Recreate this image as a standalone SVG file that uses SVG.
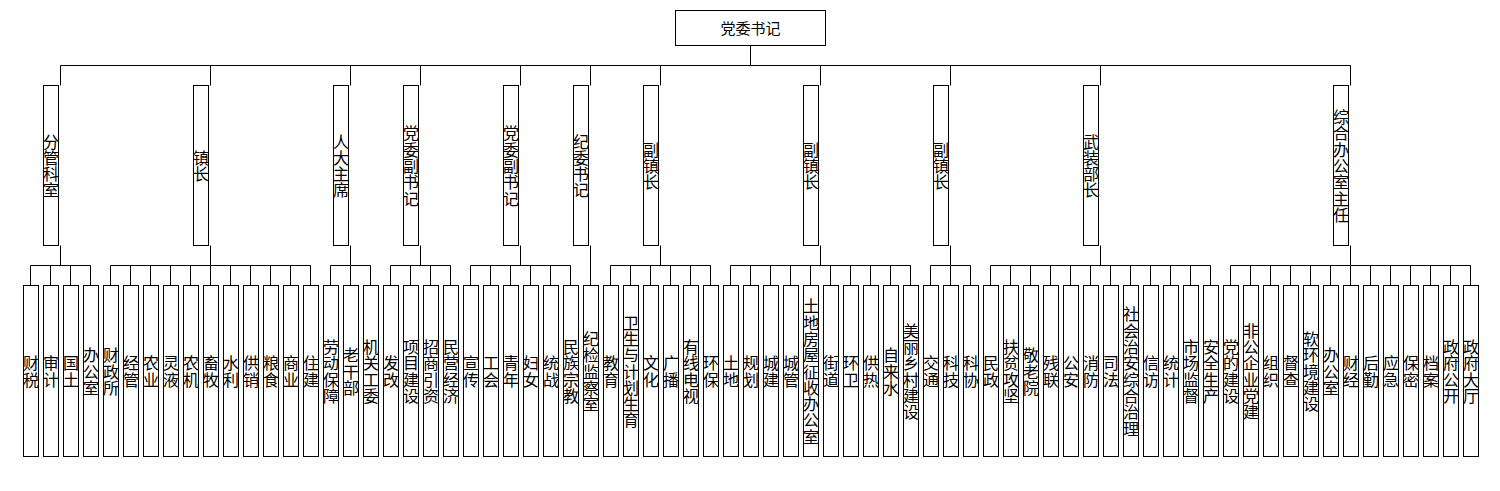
<svg xmlns="http://www.w3.org/2000/svg" width="1500" height="491" viewBox="0 0 1500 491">
<style>
.b{fill:#fff;stroke:#000;stroke-width:1}
.c{fill:none;stroke:#000;stroke-width:1}
.t{font-family:"Noto Sans CJK SC","Noto Sans CJK JP",sans-serif;font-size:16px;text-anchor:middle;dominant-baseline:central;fill:#000}
.h{font-size:15px}
</style>
<rect x="0" y="0" width="1500" height="491" fill="#fff"/>
<g id="connectors">
<path class="c" d="M750.5 45.5V65.5M60.5 65.5H1350.5
M60.5 65.5v20M210.5 65.5v20M350.5 65.5v20M420.5 65.5v20M520.5 65.5v20M590.5 65.5v20M660.5 65.5v20M820.5 65.5v20M950.5 65.5v20M1100.5 65.5v20M1350.5 65.5v20
M60.5 245.5v20M210.5 245.5v20M350.5 245.5v20M420.5 245.5v20M520.5 245.5v20M590.5 245.5v40M660.5 245.5v20M820.5 245.5v20M950.5 245.5v20M1100.5 245.5v20M1350.5 245.5v20
M30.5 265.5H90.5M110.5 265.5H310.5M330.5 265.5H370.5M390.5 265.5H450.5M470.5 265.5H570.5M610.5 265.5H710.5M730.5 265.5H910.5M930.5 265.5H970.5M990.5 265.5H1210.5M1230.5 265.5H1470.5
M30.5 265.5v20M50.5 265.5v20M70.5 265.5v20M90.5 265.5v20M110.5 265.5v20M130.5 265.5v20M150.5 265.5v20M170.5 265.5v20M190.5 265.5v20M210.5 265.5v20M230.5 265.5v20M250.5 265.5v20M270.5 265.5v20M290.5 265.5v20M310.5 265.5v20M330.5 265.5v20M350.5 265.5v20M370.5 265.5v20M390.5 265.5v20M410.5 265.5v20M430.5 265.5v20M450.5 265.5v20M470.5 265.5v20M490.5 265.5v20M510.5 265.5v20M530.5 265.5v20M550.5 265.5v20M570.5 265.5v20M610.5 265.5v20M630.5 265.5v20M650.5 265.5v20M670.5 265.5v20M690.5 265.5v20M710.5 265.5v20M730.5 265.5v20M750.5 265.5v20M770.5 265.5v20M790.5 265.5v20M810.5 265.5v20M830.5 265.5v20M850.5 265.5v20M870.5 265.5v20M890.5 265.5v20M910.5 265.5v20M930.5 265.5v20M950.5 265.5v20M970.5 265.5v20M990.5 265.5v20M1010.5 265.5v20M1030.5 265.5v20M1050.5 265.5v20M1070.5 265.5v20M1090.5 265.5v20M1110.5 265.5v20M1130.5 265.5v20M1150.5 265.5v20M1170.5 265.5v20M1190.5 265.5v20M1210.5 265.5v20M1230.5 265.5v20M1250.5 265.5v20M1270.5 265.5v20M1290.5 265.5v20M1310.5 265.5v20M1330.5 265.5v20M1350.5 265.5v20M1370.5 265.5v20M1390.5 265.5v20M1410.5 265.5v20M1430.5 265.5v20M1450.5 265.5v20M1470.5 265.5v20"/>
</g>
<g id="top"><rect class="b" x="675.5" y="10.5" width="150" height="35"/><text class="t h" x="750.5" y="27.5">党委书记</text></g>
<g id="m1"><rect class="b" x="43.5" y="85.5" width="15" height="160"/><text class="t" x="51 51 51 51" y="140.55 156.85 173.15 189.45">分管科室</text></g>
<g id="m2"><rect class="b" x="193.5" y="85.5" width="15" height="160"/><text class="t" x="201 201" y="156.85 173.15">镇长</text></g>
<g id="m3"><rect class="b" x="333.5" y="85.5" width="15" height="160"/><text class="t" x="341 341 341 341" y="140.55 156.85 173.15 189.45">人大主席</text></g>
<g id="m4"><rect class="b" x="403.5" y="85.5" width="15" height="160"/><text class="t" x="411 411 411 411 411" y="132.4 148.7 165 181.3 197.6">党委副书记</text></g>
<g id="m5"><rect class="b" x="503.5" y="85.5" width="15" height="160"/><text class="t" x="511 511 511 511 511" y="132.4 148.7 165 181.3 197.6">党委副书记</text></g>
<g id="m6"><rect class="b" x="573.5" y="85.5" width="15" height="160"/><text class="t" x="581 581 581 581" y="140.55 156.85 173.15 189.45">纪委书记</text></g>
<g id="m7"><rect class="b" x="643.5" y="85.5" width="15" height="160"/><text class="t" x="651 651 651" y="148.7 165 181.3">副镇长</text></g>
<g id="m8"><rect class="b" x="803.5" y="85.5" width="15" height="160"/><text class="t" x="811 811 811" y="148.7 165 181.3">副镇长</text></g>
<g id="m9"><rect class="b" x="933.5" y="85.5" width="15" height="160"/><text class="t" x="941 941 941" y="148.7 165 181.3">副镇长</text></g>
<g id="m10"><rect class="b" x="1083.5" y="85.5" width="15" height="160"/><text class="t" x="1091 1091 1091 1091" y="140.55 156.85 173.15 189.45">武装部长</text></g>
<g id="m11"><rect class="b" x="1333.5" y="85.5" width="15" height="160"/><text class="t" x="1341 1341 1341 1341 1341 1341 1341" y="116.1 132.4 148.7 165 181.3 197.6 213.9">综合办公室主任</text></g>
<g id="l0"><rect class="b" x="23.5" y="285.5" width="15" height="171"/><text class="t" x="31 31" y="362.35 378.65">财税</text></g>
<g id="l1"><rect class="b" x="43.5" y="285.5" width="15" height="171"/><text class="t" x="51 51" y="362.35 378.65">审计</text></g>
<g id="l2"><rect class="b" x="63.5" y="285.5" width="15" height="171"/><text class="t" x="71 71" y="362.35 378.65">国土</text></g>
<g id="l3"><rect class="b" x="83.5" y="285.5" width="15" height="171"/><text class="t" x="91 91 91" y="354.2 370.5 386.8">办公室</text></g>
<g id="l4"><rect class="b" x="103.5" y="285.5" width="15" height="171"/><text class="t" x="111 111 111" y="354.2 370.5 386.8">财政所</text></g>
<g id="l5"><rect class="b" x="123.5" y="285.5" width="15" height="171"/><text class="t" x="131 131" y="362.35 378.65">经管</text></g>
<g id="l6"><rect class="b" x="143.5" y="285.5" width="15" height="171"/><text class="t" x="151 151" y="362.35 378.65">农业</text></g>
<g id="l7"><rect class="b" x="163.5" y="285.5" width="15" height="171"/><text class="t" x="171 171" y="362.35 378.65">灵液</text></g>
<g id="l8"><rect class="b" x="183.5" y="285.5" width="15" height="171"/><text class="t" x="191 191" y="362.35 378.65">农机</text></g>
<g id="l9"><rect class="b" x="203.5" y="285.5" width="15" height="171"/><text class="t" x="211 211" y="362.35 378.65">畜牧</text></g>
<g id="l10"><rect class="b" x="223.5" y="285.5" width="15" height="171"/><text class="t" x="231 231" y="362.35 378.65">水利</text></g>
<g id="l11"><rect class="b" x="243.5" y="285.5" width="15" height="171"/><text class="t" x="251 251" y="362.35 378.65">供销</text></g>
<g id="l12"><rect class="b" x="263.5" y="285.5" width="15" height="171"/><text class="t" x="271 271" y="362.35 378.65">粮食</text></g>
<g id="l13"><rect class="b" x="283.5" y="285.5" width="15" height="171"/><text class="t" x="291 291" y="362.35 378.65">商业</text></g>
<g id="l14"><rect class="b" x="303.5" y="285.5" width="15" height="171"/><text class="t" x="311 311" y="362.35 378.65">住建</text></g>
<g id="l15"><rect class="b" x="323.5" y="285.5" width="15" height="171"/><text class="t" x="331 331 331 331" y="346.05 362.35 378.65 394.95">劳动保障</text></g>
<g id="l16"><rect class="b" x="343.5" y="285.5" width="15" height="171"/><text class="t" x="351 351 351" y="354.2 370.5 386.8">老干部</text></g>
<g id="l17"><rect class="b" x="363.5" y="285.5" width="15" height="171"/><text class="t" x="371 371 371 371" y="346.05 362.35 378.65 394.95">机关工委</text></g>
<g id="l18"><rect class="b" x="383.5" y="285.5" width="15" height="171"/><text class="t" x="391 391" y="362.35 378.65">发改</text></g>
<g id="l19"><rect class="b" x="403.5" y="285.5" width="15" height="171"/><text class="t" x="411 411 411 411" y="346.05 362.35 378.65 394.95">项目建设</text></g>
<g id="l20"><rect class="b" x="423.5" y="285.5" width="15" height="171"/><text class="t" x="431 431 431 431" y="346.05 362.35 378.65 394.95">招商引资</text></g>
<g id="l21"><rect class="b" x="443.5" y="285.5" width="15" height="171"/><text class="t" x="451 451 451 451" y="346.05 362.35 378.65 394.95">民营经济</text></g>
<g id="l22"><rect class="b" x="463.5" y="285.5" width="15" height="171"/><text class="t" x="471 471" y="362.35 378.65">宣传</text></g>
<g id="l23"><rect class="b" x="483.5" y="285.5" width="15" height="171"/><text class="t" x="491 491" y="362.35 378.65">工会</text></g>
<g id="l24"><rect class="b" x="503.5" y="285.5" width="15" height="171"/><text class="t" x="511 511" y="362.35 378.65">青年</text></g>
<g id="l25"><rect class="b" x="523.5" y="285.5" width="15" height="171"/><text class="t" x="531 531" y="362.35 378.65">妇女</text></g>
<g id="l26"><rect class="b" x="543.5" y="285.5" width="15" height="171"/><text class="t" x="551 551" y="362.35 378.65">统战</text></g>
<g id="l27"><rect class="b" x="563.5" y="285.5" width="15" height="171"/><text class="t" x="571 571 571 571" y="346.05 362.35 378.65 394.95">民族宗教</text></g>
<g id="l28"><rect class="b" x="583.5" y="285.5" width="15" height="171"/><text class="t" x="591 591 591 591 591" y="337.9 354.2 370.5 386.8 403.1">纪检监察室</text></g>
<g id="l29"><rect class="b" x="603.5" y="285.5" width="15" height="171"/><text class="t" x="611 611" y="362.35 378.65">教育</text></g>
<g id="l30"><rect class="b" x="623.5" y="285.5" width="15" height="171"/><text class="t" x="631 631 631 631 631 631 631" y="321.6 337.9 354.2 370.5 386.8 403.1 419.4">卫生与计划生育</text></g>
<g id="l31"><rect class="b" x="643.5" y="285.5" width="15" height="171"/><text class="t" x="651 651" y="362.35 378.65">文化</text></g>
<g id="l32"><rect class="b" x="663.5" y="285.5" width="15" height="171"/><text class="t" x="671 671" y="362.35 378.65">广播</text></g>
<g id="l33"><rect class="b" x="683.5" y="285.5" width="15" height="171"/><text class="t" x="691 691 691 691" y="346.05 362.35 378.65 394.95">有线电视</text></g>
<g id="l34"><rect class="b" x="703.5" y="285.5" width="15" height="171"/><text class="t" x="711 711" y="362.35 378.65">环保</text></g>
<g id="l35"><rect class="b" x="723.5" y="285.5" width="15" height="171"/><text class="t" x="731 731" y="362.35 378.65">土地</text></g>
<g id="l36"><rect class="b" x="743.5" y="285.5" width="15" height="171"/><text class="t" x="751 751" y="362.35 378.65">规划</text></g>
<g id="l37"><rect class="b" x="763.5" y="285.5" width="15" height="171"/><text class="t" x="771 771" y="362.35 378.65">城建</text></g>
<g id="l38"><rect class="b" x="783.5" y="285.5" width="15" height="171"/><text class="t" x="791 791" y="362.35 378.65">城管</text></g>
<g id="l39"><rect class="b" x="803.5" y="285.5" width="15" height="171"/><text class="t" x="811 811 811 811 811 811 811 811 811" y="305.3 321.6 337.9 354.2 370.5 386.8 403.1 419.4 435.7">土地房屋征收办公室</text></g>
<g id="l40"><rect class="b" x="823.5" y="285.5" width="15" height="171"/><text class="t" x="831 831" y="362.35 378.65">街道</text></g>
<g id="l41"><rect class="b" x="843.5" y="285.5" width="15" height="171"/><text class="t" x="851 851" y="362.35 378.65">环卫</text></g>
<g id="l42"><rect class="b" x="863.5" y="285.5" width="15" height="171"/><text class="t" x="871 871" y="362.35 378.65">供热</text></g>
<g id="l43"><rect class="b" x="883.5" y="285.5" width="15" height="171"/><text class="t" x="891 891 891" y="354.2 370.5 386.8">自来水</text></g>
<g id="l44"><rect class="b" x="903.5" y="285.5" width="15" height="171"/><text class="t" x="911 911 911 911 911 911" y="329.75 346.05 362.35 378.65 394.95 411.25">美丽乡村建设</text></g>
<g id="l45"><rect class="b" x="923.5" y="285.5" width="15" height="171"/><text class="t" x="931 931" y="362.35 378.65">交通</text></g>
<g id="l46"><rect class="b" x="943.5" y="285.5" width="15" height="171"/><text class="t" x="951 951" y="362.35 378.65">科技</text></g>
<g id="l47"><rect class="b" x="963.5" y="285.5" width="15" height="171"/><text class="t" x="971 971" y="362.35 378.65">科协</text></g>
<g id="l48"><rect class="b" x="983.5" y="285.5" width="15" height="171"/><text class="t" x="991 991" y="362.35 378.65">民政</text></g>
<g id="l49"><rect class="b" x="1003.5" y="285.5" width="15" height="171"/><text class="t" x="1011 1011 1011 1011" y="346.05 362.35 378.65 394.95">扶贫攻坚</text></g>
<g id="l50"><rect class="b" x="1023.5" y="285.5" width="15" height="171"/><text class="t" x="1031 1031 1031" y="354.2 370.5 386.8">敬老院</text></g>
<g id="l51"><rect class="b" x="1043.5" y="285.5" width="15" height="171"/><text class="t" x="1051 1051" y="362.35 378.65">残联</text></g>
<g id="l52"><rect class="b" x="1063.5" y="285.5" width="15" height="171"/><text class="t" x="1071 1071" y="362.35 378.65">公安</text></g>
<g id="l53"><rect class="b" x="1083.5" y="285.5" width="15" height="171"/><text class="t" x="1091 1091" y="362.35 378.65">消防</text></g>
<g id="l54"><rect class="b" x="1103.5" y="285.5" width="15" height="171"/><text class="t" x="1111 1111" y="362.35 378.65">司法</text></g>
<g id="l55"><rect class="b" x="1123.5" y="285.5" width="15" height="171"/><text class="t" x="1131 1131 1131 1131 1131 1131 1131 1131" y="313.45 329.75 346.05 362.35 378.65 394.95 411.25 427.55">社会治安综合治理</text></g>
<g id="l56"><rect class="b" x="1143.5" y="285.5" width="15" height="171"/><text class="t" x="1151 1151" y="362.35 378.65">信访</text></g>
<g id="l57"><rect class="b" x="1163.5" y="285.5" width="15" height="171"/><text class="t" x="1171 1171" y="362.35 378.65">统计</text></g>
<g id="l58"><rect class="b" x="1183.5" y="285.5" width="15" height="171"/><text class="t" x="1191 1191 1191 1191" y="346.05 362.35 378.65 394.95">市场监督</text></g>
<g id="l59"><rect class="b" x="1203.5" y="285.5" width="15" height="171"/><text class="t" x="1211 1211 1211 1211" y="346.05 362.35 378.65 394.95">安全生产</text></g>
<g id="l60"><rect class="b" x="1223.5" y="285.5" width="15" height="171"/><text class="t" x="1231 1231 1231 1231" y="346.05 362.35 378.65 394.95">党的建设</text></g>
<g id="l61"><rect class="b" x="1243.5" y="285.5" width="15" height="171"/><text class="t" x="1251 1251 1251 1251 1251 1251" y="329.75 346.05 362.35 378.65 394.95 411.25">非公企业党建</text></g>
<g id="l62"><rect class="b" x="1263.5" y="285.5" width="15" height="171"/><text class="t" x="1271 1271" y="362.35 378.65">组织</text></g>
<g id="l63"><rect class="b" x="1283.5" y="285.5" width="15" height="171"/><text class="t" x="1291 1291" y="362.35 378.65">督查</text></g>
<g id="l64"><rect class="b" x="1303.5" y="285.5" width="15" height="171"/><text class="t" x="1311 1311 1311 1311 1311" y="337.9 354.2 370.5 386.8 403.1">软环境建设</text></g>
<g id="l65"><rect class="b" x="1323.5" y="285.5" width="15" height="171"/><text class="t" x="1331 1331 1331" y="354.2 370.5 386.8">办公室</text></g>
<g id="l66"><rect class="b" x="1343.5" y="285.5" width="15" height="171"/><text class="t" x="1351 1351" y="362.35 378.65">财经</text></g>
<g id="l67"><rect class="b" x="1363.5" y="285.5" width="15" height="171"/><text class="t" x="1371 1371" y="362.35 378.65">后勤</text></g>
<g id="l68"><rect class="b" x="1383.5" y="285.5" width="15" height="171"/><text class="t" x="1391 1391" y="362.35 378.65">应急</text></g>
<g id="l69"><rect class="b" x="1403.5" y="285.5" width="15" height="171"/><text class="t" x="1411 1411" y="362.35 378.65">保密</text></g>
<g id="l70"><rect class="b" x="1423.5" y="285.5" width="15" height="171"/><text class="t" x="1431 1431" y="362.35 378.65">档案</text></g>
<g id="l71"><rect class="b" x="1443.5" y="285.5" width="15" height="171"/><text class="t" x="1451 1451 1451 1451" y="346.05 362.35 378.65 394.95">政府公开</text></g>
<g id="l72"><rect class="b" x="1463.5" y="285.5" width="15" height="171"/><text class="t" x="1471 1471 1471 1471" y="346.05 362.35 378.65 394.95">政府大厅</text></g>
</svg>
